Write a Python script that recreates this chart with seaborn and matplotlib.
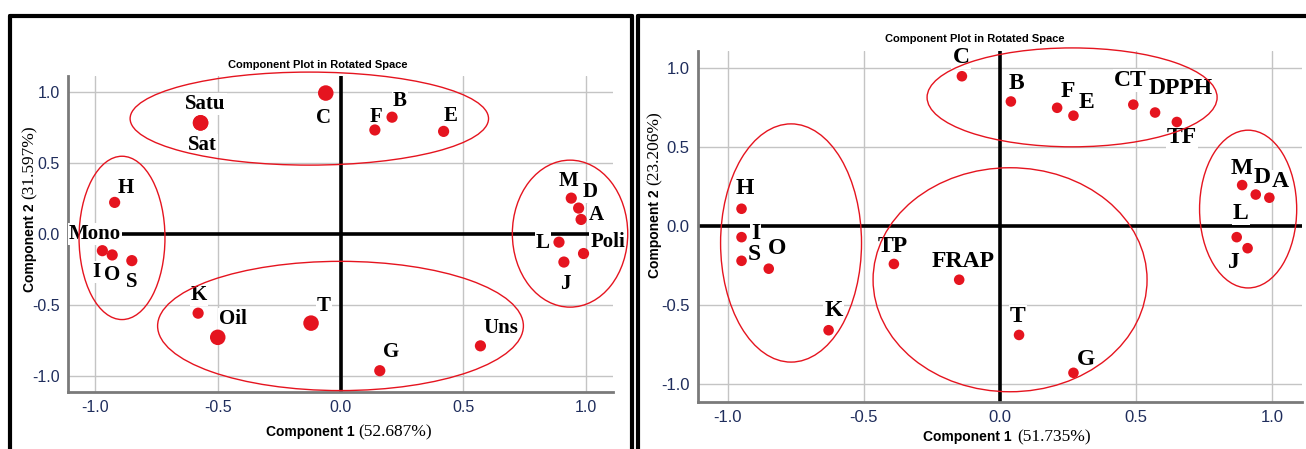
import numpy as np
import pandas as pd
import matplotlib
matplotlib.use("Agg")
import matplotlib.pyplot as plt
import seaborn as sns
from matplotlib.patches import Ellipse
from matplotlib.lines import Line2D

# --- Data ---------------------------------------------------------------------------------

LEFT_NAMES = ["Satu", "Sat", "C", "F", "B", "E", "H", "M", "D", "A", "I", "O", "S",
              "K", "Oil", "T", "L", "Poli", "J", "Uns", "G"]
LEFT_C1 = [-0.57, -0.57, -0.06, 0.14, 0.21, 0.42, -0.92, 0.94, 0.97, 0.98, -0.97, -0.93, -0.85,
           -0.58, -0.50, -0.12, 0.89, 0.99, 0.91, 0.57, 0.16]
LEFT_C2 = [0.78, 0.78, 0.99, 0.73, 0.82, 0.72, 0.22, 0.25, 0.18, 0.10, -0.12, -0.15, -0.19,
           -0.56, -0.73, -0.63, -0.06, -0.14, -0.20, -0.79, -0.965]
LEFT_BIG = ["Satu", "Sat", "C", "Oil", "T"]

RIGHT_NAMES = ["C", "B", "F", "E", "CT", "DPPH", "TF", "M", "D", "A", "L", "J",
               "H", "I", "S", "O", "K", "TP", "FRAP", "T", "G"]
RIGHT_C1 = [-0.14, 0.04, 0.21, 0.27, 0.49, 0.57, 0.65, 0.89, 0.94, 0.99, 0.87, 0.91,
            -0.95, -0.95, -0.95, -0.85, -0.63, -0.39, -0.15, 0.07, 0.27]
RIGHT_C2 = [0.95, 0.79, 0.75, 0.70, 0.77, 0.72, 0.66, 0.26, 0.20, 0.18, -0.07, -0.14,
            0.11, -0.07, -0.22, -0.27, -0.66, -0.24, -0.34, -0.69, -0.93]

TICKS = [-1.0, -0.5, 0.0, 0.5, 1.0]
TICK_LABELS = ["-1.0", "-0.5", "0.0", "0.5", "1.0"]

# label offsets (pixels) from each point
LEFT_OFFSETS = {"Satu": (5, 19), "Sat": (2, -22), "C": (-2, -25), "F": (1, 13), "B": (8, 16),
                "E": (7, 15), "H": (11, 14), "M": (-3, 17), "D": (11, 16), "A": (15, 4),
                "I": (-6, -21), "O": (0, -20), "S": (0, -21), "K": (1, 18), "Oil": (15, 18),
                "T": (13, 17), "L": (-16, -1), "Poli": (24, 12), "J": (1, -22),
                "Uns": (20, 18), "G": (11, 19)}
RIGHT_OFFSETS = {"C": (-1, 19), "B": (6, 18), "F": (11, 16), "E": (13, 13), "CT": (-3, 24),
                 "DPPH": (26, 24), "TF": (5, -16), "M": (0, 17), "D": (6, 17), "A": (11, 16),
                 "L": (4, 24), "J": (-14, -14), "H": (3, 20), "I": (14, 4), "S": (13, 6),
                 "O": (8, 20), "K": (5, 20), "TP": (-1, 17), "FRAP": (4, 18), "T": (-1, 18),
                 "G": (13, 13)}

# group ellipses: (center x, center y, width, height)
LEFT_GROUPS = [(-0.127, 0.81, 1.46, 0.655), (-0.89, -0.03, 0.35, 1.15),
               (0.0, -0.65, 1.49, 0.91), (0.935, 0.0, 0.47, 1.035)]
RIGHT_GROUPS = [(0.265, 0.816, 1.066, 0.627), (-0.768, -0.107, 0.518, 1.51),
                (0.037, -0.34, 1.007, 1.42), (0.912, 0.108, 0.357, 1.0)]

RED = "#e5141f"
NAVY = "#1f2d5c"

sns.set_theme(style="white")
plt.rcParams["font.family"] = ["Liberation Sans", "DejaVu Sans"]

W, H = 1306, 449
fig = plt.figure(figsize=(W / 100, H / 100), dpi=100)


def px_axes(x0, y0, x1, y1):
    return fig.add_axes([x0 / W, 1 - y1 / H, (x1 - x0) / W, (y1 - y0) / H])


def draw_panel(ax, names, c1, c2, big, offsets, groups, pct1, pct2,
               lab_size, tick_size, xl_pos, yl_pos, small_s, big_s):
    df = pd.DataFrame({"name": names, "c1": c1, "c2": c2})
    df["big"] = df["name"].isin(big)

    ax.set_xlim(-1.11, 1.11)
    ax.set_ylim(-1.115, 1.11)
    ax.set_xticks(TICKS)
    ax.set_xticklabels(TICK_LABELS)
    ax.set_yticks(TICKS)
    ax.set_yticklabels(TICK_LABELS)
    ax.tick_params(length=0, labelsize=tick_size, labelcolor=NAVY, pad=6)
    ax.grid(True, color="#c4c4c4", lw=1.0)
    ax.set_axisbelow(True)
    for side in ["top", "right"]:
        ax.spines[side].set_visible(False)
    for side in ["left", "bottom"]:
        ax.spines[side].set_color("#7a7a7a")
        ax.spines[side].set_linewidth(2)

    ax.axhline(0, color="black", lw=2.6, zorder=1.5)
    ax.axvline(0, color="black", lw=2.6, zorder=1.5)

    sns.scatterplot(data=df[~df["big"]], x="c1", y="c2", color=RED, s=small_s,
                    edgecolor="none", ax=ax, zorder=4, legend=False)
    if df["big"].any():
        sns.scatterplot(data=df[df["big"]], x="c1", y="c2", color=RED, s=big_s,
                        edgecolor="none", ax=ax, zorder=4, legend=False)

    for _, row in df.iterrows():
        dx, dy = offsets[row["name"]]
        ax.annotate(row["name"], (row["c1"], row["c2"]), xytext=(dx, dy),
                    textcoords="offset pixels", ha="center", va="center",
                    family="Liberation Serif", fontweight="bold", fontsize=lab_size,
                    color="black", zorder=3,
                    bbox=dict(boxstyle="square,pad=0.05", fc="white", ec="none"))

    for cx, cy, w, h in groups:
        ax.add_patch(Ellipse((cx, cy), w, h, fill=False, ec=RED, lw=1.0, zorder=5,
                             clip_on=False))

    ax.set_xlabel("")
    ax.set_ylabel("")
    ax.text(0.459, 1.035, "Component Plot in Rotated Space", transform=ax.transAxes,
            ha="center", va="center", fontsize=8, fontweight="bold", color="black")

    jx, jy = xl_pos
    ax.text(jx, jy, "Component 1", transform=ax.transAxes, ha="right", va="center",
            fontsize=10, fontweight="bold", color="black")
    ax.text(jx + 0.008, jy, f"({pct1})", transform=ax.transAxes, ha="left", va="center",
            family="Liberation Serif", fontsize=12.5, color="black")
    kx, ky = yl_pos
    ax.text(kx, ky, "Component 2", transform=ax.transAxes, ha="right", va="center",
            rotation=90, rotation_mode="anchor", fontsize=10, fontweight="bold", color="black")
    ax.text(kx, ky + 0.015, f"({pct2})", transform=ax.transAxes, ha="left", va="center",
            rotation=90, rotation_mode="anchor", family="Liberation Serif",
            fontsize=12.5, color="black")


ax1 = px_axes(68, 76, 613, 392)
draw_panel(ax1, LEFT_NAMES, LEFT_C1, LEFT_C2, LEFT_BIG, LEFT_OFFSETS, LEFT_GROUPS,
           "52.687%", "31.597%", 15, 11.5, (0.525, -0.127), (-0.07, 0.595), 65, 125)
ax1.text(-1.0, 0.0, "Mono", ha="center", va="center", family="Liberation Serif",
         fontweight="bold", fontsize=15, color="black", zorder=3,
         bbox=dict(boxstyle="square,pad=0.05", fc="white", ec="none"))

ax2 = px_axes(698, 51, 1302, 402)
draw_panel(ax2, RIGHT_NAMES, RIGHT_C1, RIGHT_C2, [], RIGHT_OFFSETS, RIGHT_GROUPS,
           "51.735%", "23.206%", 17, 12, (0.52, -0.10), (-0.071, 0.604), 58, 58)

# panel frames
for seg in [((10, 10), (16, 449)), ((10, 632), (16, 16)), ((632, 632), (16, 449)),
            ((638, 638), (16, 449)), ((638, 1306), (16, 16))]:
    xs, ys = seg
    fig.add_artist(Line2D([x / W for x in xs], [1 - y / H for y in ys],
                          transform=fig.transFigure, color="black", lw=3))

fig.savefig("out.png", dpi=100)
